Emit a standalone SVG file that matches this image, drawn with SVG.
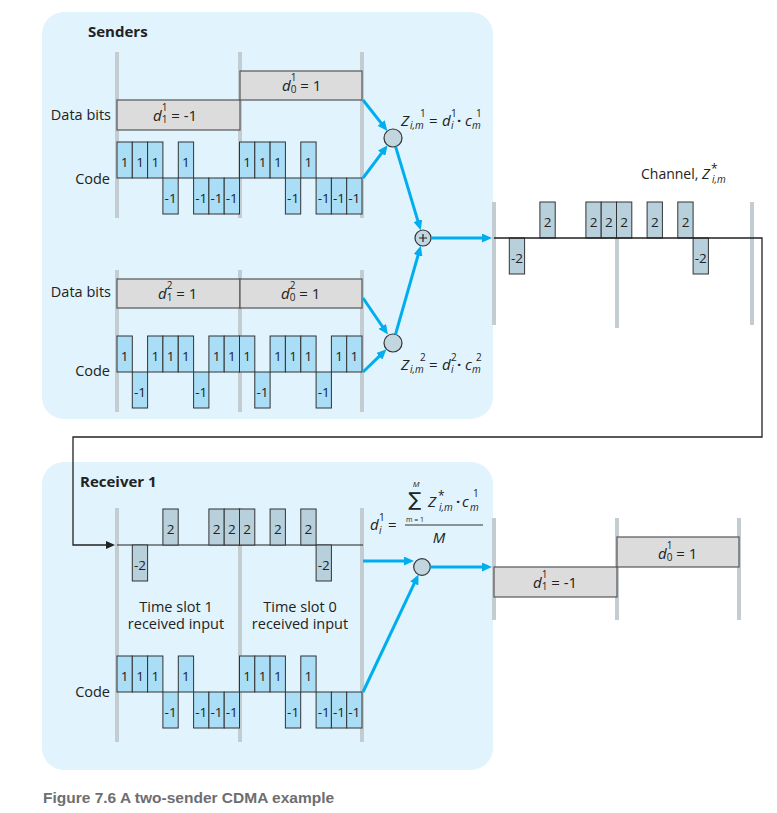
<svg xmlns="http://www.w3.org/2000/svg" width="777" height="813" viewBox="0 0 777 813">
<defs>
<style>
.panel{fill:#e1f3fc}
.bar{stroke:#c3ccd1;stroke-width:4}
.chip{fill:#a9def6;stroke:#333;stroke-width:1}
.ch{fill:#b7d0dc;stroke:#333;stroke-width:1}
.data{fill:#dcdcdc;stroke:#555;stroke-width:1.2}
text{font-family:"Open Sans","Noto Sans",sans-serif;fill:#222}
.lbl{font-size:14.5px}
.r{text-anchor:end}
.m{text-anchor:middle}
.cn{font-size:13.5px;text-anchor:middle}
.ttl{font-size:15px;font-weight:bold}
.i{font-style:italic}
.dt{font-size:15px}
.s{font-size:10px}
.f{font-size:15px}
.arr{stroke:#00aeef;stroke-width:3;fill:none;marker-end:url(#ah)}
.node{fill:#c2d6e0;stroke:#333;stroke-width:1.2}
.blk{stroke:#222;stroke-width:1.3;fill:none}
</style>
<marker id="ah" markerUnits="userSpaceOnUse" markerWidth="10" markerHeight="9" refX="2" refY="4.5" orient="auto"><path d="M0,0 L10,4.5 L0,9 z" fill="#00aeef"/></marker>
<marker id="bh" markerUnits="userSpaceOnUse" markerWidth="9" markerHeight="8" refX="1" refY="4" orient="auto"><path d="M0,0 L9,4 L0,8 z" fill="#222"/></marker>
</defs>
<rect width="777" height="813" fill="#fff"/>

<g id="senders">
<rect class="panel" x="42" y="12" width="451" height="407" rx="22"/>
<text class="ttl" x="88" y="37">Senders</text>
</g>

<g id="sender1">
<line class="bar" x1="117" y1="52" x2="117" y2="218"/>
<line class="bar" x1="240" y1="52" x2="240" y2="218"/>
<line class="bar" x1="362" y1="52" x2="362" y2="218"/>
<text class="lbl r" x="111" y="120">Data bits</text>
<text class="lbl r" x="110" y="184">Code</text>
<rect class="data" x="117" y="100" width="123" height="30"/>
<rect class="data" x="240" y="71" width="122" height="29"/>
<text class="dt" x="153" y="121"><tspan class="i">d</tspan><tspan class="s" dy="-10.5">1</tspan><tspan class="s" dx="-5.7" dy="12">1</tspan><tspan dy="-1.5"> = -1</tspan></text>
<text class="dt" x="282" y="91"><tspan class="i">d</tspan><tspan class="s" dy="-10.5">1</tspan><tspan class="s" dx="-5.7" dy="12">0</tspan><tspan dy="-1.5"> = 1</tspan></text>
<rect class="chip" x="117" y="142" width="15.3" height="36"/><text class="cn" x="124.7" y="166.5">1</text>
<rect class="chip" x="132.3" y="142" width="15.3" height="36"/><text class="cn" x="140" y="166.5">1</text>
<rect class="chip" x="147.6" y="142" width="15.3" height="36"/><text class="cn" x="155.3" y="166.5">1</text>
<rect class="chip" x="162.9" y="178" width="15.3" height="36"/><text class="cn" x="170.6" y="202.5">-1</text>
<rect class="chip" x="178.3" y="142" width="15.3" height="36"/><text class="cn" x="185.9" y="166.5">1</text>
<rect class="chip" x="193.6" y="178" width="15.3" height="36"/><text class="cn" x="201.2" y="202.5">-1</text>
<rect class="chip" x="208.9" y="178" width="15.3" height="36"/><text class="cn" x="216.5" y="202.5">-1</text>
<rect class="chip" x="224.2" y="178" width="15.3" height="36"/><text class="cn" x="231.8" y="202.5">-1</text>
<rect class="chip" x="239.5" y="142" width="15.3" height="36"/><text class="cn" x="247.2" y="166.5">1</text>
<rect class="chip" x="254.8" y="142" width="15.3" height="36"/><text class="cn" x="262.5" y="166.5">1</text>
<rect class="chip" x="270.1" y="142" width="15.3" height="36"/><text class="cn" x="277.8" y="166.5">1</text>
<rect class="chip" x="285.4" y="178" width="15.3" height="36"/><text class="cn" x="293.1" y="202.5">-1</text>
<rect class="chip" x="300.8" y="142" width="15.3" height="36"/><text class="cn" x="308.4" y="166.5">1</text>
<rect class="chip" x="316.1" y="178" width="15.3" height="36"/><text class="cn" x="323.7" y="202.5">-1</text>
<rect class="chip" x="331.4" y="178" width="15.3" height="36"/><text class="cn" x="339" y="202.5">-1</text>
<rect class="chip" x="346.7" y="178" width="15.3" height="36"/><text class="cn" x="354.3" y="202.5">-1</text>
<circle class="node" cx="393" cy="138" r="9"/>
<text class="f"><tspan class="i" x="401" y="126">Z</tspan><tspan class="s" x="420" y="117">1</tspan><tspan class="s i" x="410" y="129">i,m</tspan><tspan x="429" y="126">=</tspan><tspan class="i" x="442" y="126">d</tspan><tspan class="s" x="451" y="117">1</tspan><tspan class="s i" x="451" y="129">i</tspan><tspan x="457" y="126" font-weight="bold">·</tspan><tspan class="i" x="465" y="126">c</tspan><tspan class="s" x="476" y="117">1</tspan><tspan class="s i" x="472" y="129">m</tspan></text>
</g>

<g id="sender2">
<line class="bar" x1="117" y1="270" x2="117" y2="412"/>
<line class="bar" x1="240" y1="270" x2="240" y2="412"/>
<line class="bar" x1="362" y1="270" x2="362" y2="412"/>
<text class="lbl r" x="111" y="297">Data bits</text>
<text class="lbl r" x="110" y="376">Code</text>
<rect class="data" x="117" y="279" width="123" height="29"/>
<rect class="data" x="240" y="279" width="122" height="29"/>
<text class="dt" x="158" y="299"><tspan class="i">d</tspan><tspan class="s" dy="-10.5">2</tspan><tspan class="s" dx="-5.7" dy="12">1</tspan><tspan dy="-1.5"> = 1</tspan></text>
<text class="dt" x="281" y="299"><tspan class="i">d</tspan><tspan class="s" dy="-10.5">2</tspan><tspan class="s" dx="-5.7" dy="12">0</tspan><tspan dy="-1.5"> = 1</tspan></text>
<rect class="chip" x="117" y="336" width="15.3" height="36"/><text class="cn" x="124.7" y="360.5">1</text>
<rect class="chip" x="132.3" y="372" width="15.3" height="36"/><text class="cn" x="140" y="396.5">-1</text>
<rect class="chip" x="147.6" y="336" width="15.3" height="36"/><text class="cn" x="155.3" y="360.5">1</text>
<rect class="chip" x="162.9" y="336" width="15.3" height="36"/><text class="cn" x="170.6" y="360.5">1</text>
<rect class="chip" x="178.3" y="336" width="15.3" height="36"/><text class="cn" x="185.9" y="360.5">1</text>
<rect class="chip" x="193.6" y="372" width="15.3" height="36"/><text class="cn" x="201.2" y="396.5">-1</text>
<rect class="chip" x="208.9" y="336" width="15.3" height="36"/><text class="cn" x="216.5" y="360.5">1</text>
<rect class="chip" x="224.2" y="336" width="15.3" height="36"/><text class="cn" x="231.8" y="360.5">1</text>
<rect class="chip" x="239.5" y="336" width="15.3" height="36"/><text class="cn" x="247.2" y="360.5">1</text>
<rect class="chip" x="254.8" y="372" width="15.3" height="36"/><text class="cn" x="262.5" y="396.5">-1</text>
<rect class="chip" x="270.1" y="336" width="15.3" height="36"/><text class="cn" x="277.8" y="360.5">1</text>
<rect class="chip" x="285.4" y="336" width="15.3" height="36"/><text class="cn" x="293.1" y="360.5">1</text>
<rect class="chip" x="300.8" y="336" width="15.3" height="36"/><text class="cn" x="308.4" y="360.5">1</text>
<rect class="chip" x="316.1" y="372" width="15.3" height="36"/><text class="cn" x="323.7" y="396.5">-1</text>
<rect class="chip" x="331.4" y="336" width="15.3" height="36"/><text class="cn" x="339" y="360.5">1</text>
<rect class="chip" x="346.7" y="336" width="15.3" height="36"/><text class="cn" x="354.3" y="360.5">1</text>
<circle class="node" cx="393" cy="343" r="9"/>
<text class="f"><tspan class="i" x="401" y="370">Z</tspan><tspan class="s" x="420" y="361">2</tspan><tspan class="s i" x="410" y="373">i,m</tspan><tspan x="429" y="370">=</tspan><tspan class="i" x="442" y="370">d</tspan><tspan class="s" x="451" y="361">2</tspan><tspan class="s i" x="451" y="373">i</tspan><tspan x="457" y="370" font-weight="bold">·</tspan><tspan class="i" x="465" y="370">c</tspan><tspan class="s" x="476" y="361">2</tspan><tspan class="s i" x="472" y="373">m</tspan></text>
</g>

<g id="adder">
<circle class="node" cx="423" cy="238" r="8"/>
<path d="M419,238 H427 M423,234 V242" stroke="#222" stroke-width="1.2"/>
</g>

<g id="channel">
<line class="bar" x1="494" y1="202" x2="494" y2="325"/>
<line class="bar" x1="617" y1="202" x2="617" y2="328"/>
<line class="bar" x1="752" y1="202" x2="752" y2="325"/>
<text x="641" y="179" font-size="14px">Channel,</text>
<text class="i" x="702" y="179" font-size="14.5px">Z</text>
<text x="711" y="173" font-size="12px">*</text>
<text class="s i" x="712" y="183">i,m</text>
<rect class="ch" x="509.3" y="238" width="15.3" height="36"/><text class="cn" x="517" y="262.5">-2</text>
<rect class="ch" x="539.9" y="202" width="15.3" height="36"/><text class="cn" x="547.6" y="226.5">2</text>
<rect class="ch" x="585.9" y="202" width="15.3" height="36"/><text class="cn" x="593.6" y="226.5">2</text>
<rect class="ch" x="601.2" y="202" width="15.3" height="36"/><text class="cn" x="608.9" y="226.5">2</text>
<rect class="ch" x="616.5" y="202" width="15.3" height="36"/><text class="cn" x="624.2" y="226.5">2</text>
<rect class="ch" x="647.1" y="202" width="15.3" height="36"/><text class="cn" x="654.8" y="226.5">2</text>
<rect class="ch" x="677.8" y="202" width="15.3" height="36"/><text class="cn" x="685.5" y="226.5">2</text>
<rect class="ch" x="693.1" y="238" width="15.3" height="36"/><text class="cn" x="700.8" y="262.5">-2</text>
</g>

<g id="receiver">
<rect class="panel" x="42" y="462" width="451" height="308" rx="22"/>
<text class="ttl" x="80" y="487">Receiver 1</text>
<line class="bar" x1="117" y1="508" x2="117" y2="742"/>
<line class="bar" x1="240" y1="508" x2="240" y2="742"/>
<line class="bar" x1="362" y1="508" x2="362" y2="742"/>
<line x1="117" y1="545" x2="363" y2="545" stroke="#222" stroke-width="1.2"/>
<rect class="ch" x="132.3" y="545" width="15.3" height="36"/><text class="cn" x="140" y="569.5">-2</text>
<rect class="ch" x="162.9" y="509" width="15.3" height="36"/><text class="cn" x="170.6" y="533.5">2</text>
<rect class="ch" x="208.9" y="509" width="15.3" height="36"/><text class="cn" x="216.5" y="533.5">2</text>
<rect class="ch" x="224.2" y="509" width="15.3" height="36"/><text class="cn" x="231.8" y="533.5">2</text>
<rect class="ch" x="239.5" y="509" width="15.3" height="36"/><text class="cn" x="247.2" y="533.5">2</text>
<rect class="ch" x="270.1" y="509" width="15.3" height="36"/><text class="cn" x="277.8" y="533.5">2</text>
<rect class="ch" x="300.8" y="509" width="15.3" height="36"/><text class="cn" x="308.4" y="533.5">2</text>
<rect class="ch" x="316.1" y="545" width="15.3" height="36"/><text class="cn" x="323.7" y="569.5">-2</text>
<text class="lbl m" x="176" y="612">Time slot 1</text>
<text class="lbl m" x="176" y="629">received input</text>
<text class="lbl m" x="300" y="612">Time slot 0</text>
<text class="lbl m" x="300" y="629">received input</text>
<text class="lbl r" x="110" y="697">Code</text>
<rect class="chip" x="117" y="656" width="15.3" height="36"/><text class="cn" x="124.7" y="680.5">1</text>
<rect class="chip" x="132.3" y="656" width="15.3" height="36"/><text class="cn" x="140" y="680.5">1</text>
<rect class="chip" x="147.6" y="656" width="15.3" height="36"/><text class="cn" x="155.3" y="680.5">1</text>
<rect class="chip" x="162.9" y="692" width="15.3" height="36"/><text class="cn" x="170.6" y="716.5">-1</text>
<rect class="chip" x="178.3" y="656" width="15.3" height="36"/><text class="cn" x="185.9" y="680.5">1</text>
<rect class="chip" x="193.6" y="692" width="15.3" height="36"/><text class="cn" x="201.2" y="716.5">-1</text>
<rect class="chip" x="208.9" y="692" width="15.3" height="36"/><text class="cn" x="216.5" y="716.5">-1</text>
<rect class="chip" x="224.2" y="692" width="15.3" height="36"/><text class="cn" x="231.8" y="716.5">-1</text>
<rect class="chip" x="239.5" y="656" width="15.3" height="36"/><text class="cn" x="247.2" y="680.5">1</text>
<rect class="chip" x="254.8" y="656" width="15.3" height="36"/><text class="cn" x="262.5" y="680.5">1</text>
<rect class="chip" x="270.1" y="656" width="15.3" height="36"/><text class="cn" x="277.8" y="680.5">1</text>
<rect class="chip" x="285.4" y="692" width="15.3" height="36"/><text class="cn" x="293.1" y="716.5">-1</text>
<rect class="chip" x="300.8" y="656" width="15.3" height="36"/><text class="cn" x="308.4" y="680.5">1</text>
<rect class="chip" x="316.1" y="692" width="15.3" height="36"/><text class="cn" x="323.7" y="716.5">-1</text>
<rect class="chip" x="331.4" y="692" width="15.3" height="36"/><text class="cn" x="339" y="716.5">-1</text>
<rect class="chip" x="346.7" y="692" width="15.3" height="36"/><text class="cn" x="354.3" y="716.5">-1</text>
<circle class="node" cx="422" cy="567" r="8.3"/>
<g id="decode-formula">
<text class="f i" x="370" y="530">d</text>
<text class="s" x="379" y="521">1</text>
<text class="s i" x="379" y="534">i</text>
<text class="f" x="388" y="530">=</text>
<text x="415" y="506" font-size="19px" class="m" style="font-family:'DejaVu Sans',sans-serif">∑</text>
<text x="416" y="487" font-size="8px" class="m i">M</text>
<text x="415" y="522" font-size="7px" class="m">m = 1</text>
<text class="f i" x="428" y="507">Z</text>
<text x="438" y="500" font-size="12px">*</text>
<text class="s i" x="439" y="511">i,m</text>
<text class="f" x="456" y="507" font-weight="bold">·</text>
<text class="f i" x="462" y="507">c</text>
<text class="s" x="473" y="497">1</text>
<text class="s i" x="470" y="511">m</text>
<line x1="405" y1="525" x2="483" y2="525" stroke="#333" stroke-width="1"/>
<text class="f i m" x="439" y="543">M</text>
</g>
</g>

<g id="output">
<line class="bar" x1="494" y1="518" x2="494" y2="620"/>
<line class="bar" x1="617" y1="518" x2="617" y2="620"/>
<line class="bar" x1="739" y1="518" x2="739" y2="620"/>
<rect class="data" x="494" y="567" width="123" height="30"/>
<rect class="data" x="617" y="537" width="122" height="30"/>
<text class="dt" x="533" y="588"><tspan class="i">d</tspan><tspan class="s" dy="-10.5">1</tspan><tspan class="s" dx="-5.7" dy="12">1</tspan><tspan dy="-1.5"> = -1</tspan></text>
<text class="dt" x="658" y="559"><tspan class="i">d</tspan><tspan class="s" dy="-10.5">1</tspan><tspan class="s" dx="-5.7" dy="12">0</tspan><tspan dy="-1.5"> = 1</tspan></text>
</g>

<g id="connectors">
<line class="arr" x1="363" y1="100" x2="382.4" y2="124.6"/>
<line class="arr" x1="363" y1="178" x2="382.8" y2="151.6"/>
<line class="arr" x1="395.6" y1="146.6" x2="418.4" y2="222.6"/>
<line class="arr" x1="363" y1="298" x2="383.4" y2="328"/>
<line class="arr" x1="363" y1="372" x2="380.7" y2="354.9"/>
<line class="arr" x1="395.5" y1="334.3" x2="418.6" y2="253.4"/>
<line class="arr" x1="431" y1="238" x2="484" y2="238"/>
<path class="blk" d="M494,238 H762 V437 H73 V545 H107" marker-end="url(#bh)"/>
<line class="arr" x1="363" y1="561" x2="406" y2="561"/>
<line class="arr" x1="363" y1="692" x2="415.1" y2="581.7"/>
<line class="arr" x1="430.3" y1="567" x2="484" y2="567"/>
</g>

<text x="43" y="803" font-weight="bold" font-size="15.5px" style="font-family:'Liberation Sans',Arial,sans-serif;fill:#6d6e71">Figure 7.6 A two-sender CDMA example</text>
</svg>
